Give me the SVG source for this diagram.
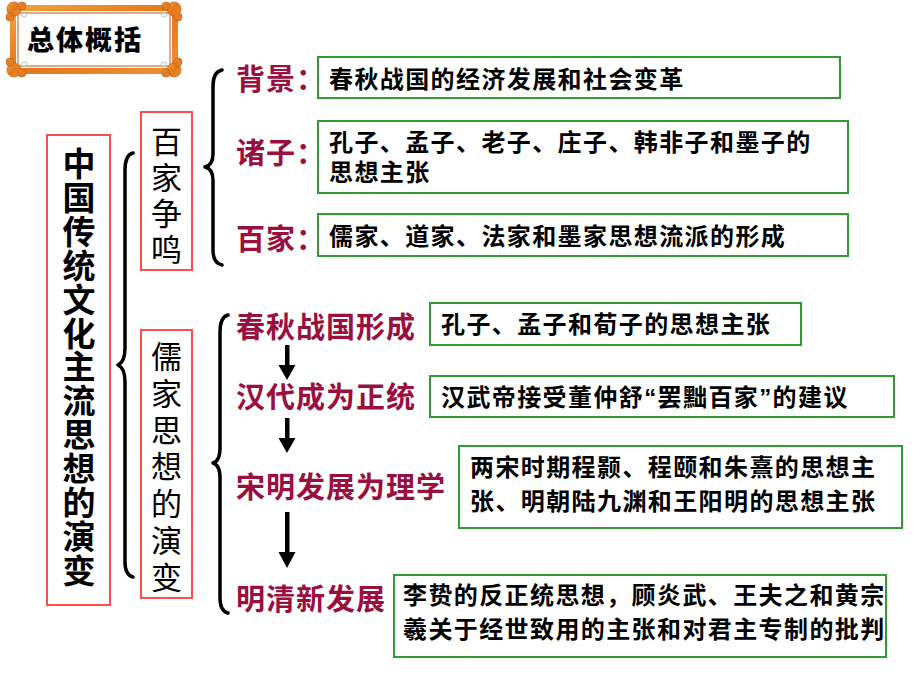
<svg xmlns="http://www.w3.org/2000/svg" width="920" height="690" viewBox="0 0 920 690">
<defs>
<style>
.cjk{font-family:"Liberation Sans","Noto Sans CJK SC",sans-serif;}
.lbl{font-family:"Liberation Sans","Noto Sans CJK SC",sans-serif;font-size:29px;font-weight:bold;fill:#99103F;letter-spacing:1px;}
.txt{font-family:"Liberation Sans","Noto Sans CJK SC",sans-serif;font-size:24px;font-weight:bold;fill:#000;letter-spacing:1.4px;}
.gbox{fill:#fff;stroke:#339933;stroke-width:2;}
.rbox{fill:#fff;stroke:#FF4D4D;stroke-width:2;}
.brace{fill:none;stroke:#000;stroke-width:3.5;stroke-linecap:round;stroke-linejoin:round;}
.arr{fill:#000;}
</style>
<linearGradient id="og" x1="0" y1="0" x2="1" y2="1">
<stop offset="0" stop-color="#F5A040"/>
<stop offset="0.5" stop-color="#E5761A"/>
<stop offset="1" stop-color="#F09035"/>
</linearGradient>
</defs>
<rect width="920" height="690" fill="#fff"/>

<g id="title">
<rect x="13" y="8" width="162" height="63" fill="#fff" stroke="url(#og)" stroke-width="6"/>
<rect x="18" y="13" width="152" height="53" fill="none" stroke="#B85A10" stroke-width="1"/>
<g fill="url(#og)" stroke="#C0651A" stroke-width="0.8">
<circle cx="14" cy="9" r="7"/><circle cx="22" cy="6" r="4"/><circle cx="10" cy="17" r="4"/>
<circle cx="174" cy="9" r="7"/><circle cx="166" cy="6" r="4"/><circle cx="178" cy="17" r="4"/>
<circle cx="14" cy="70" r="7"/><circle cx="22" cy="73" r="4"/><circle cx="10" cy="62" r="4"/>
<circle cx="174" cy="70" r="7"/><circle cx="166" cy="73" r="4"/><circle cx="178" cy="62" r="4"/>
</g>
<g fill="#F4F4F4" stroke="#999" stroke-width="0.5">
<ellipse cx="24" cy="15" rx="3" ry="2"/><ellipse cx="164" cy="15" rx="3" ry="2"/>
<ellipse cx="24" cy="64" rx="3" ry="2"/><ellipse cx="164" cy="64" rx="3" ry="2"/>
</g>
<text x="27" y="50" class="cjk" font-size="27" font-weight="900" fill="#000" letter-spacing="2">总体概括</text>
</g>

<g id="main">
<rect x="47" y="135" width="63" height="470" class="rbox"/>
<text class="cjk" font-size="33" font-weight="bold" fill="#000" text-anchor="middle">
<tspan x="79" y="176">中</tspan><tspan x="79" dy="33.9">国</tspan><tspan x="79" dy="33.9">传</tspan><tspan x="79" dy="33.9">统</tspan><tspan x="79" dy="33.9">文</tspan><tspan x="79" dy="33.9">化</tspan><tspan x="79" dy="33.9">主</tspan><tspan x="79" dy="33.9">流</tspan><tspan x="79" dy="33.9">思</tspan><tspan x="79" dy="33.9">想</tspan><tspan x="79" dy="33.9">的</tspan><tspan x="79" dy="33.9">演</tspan><tspan x="79" dy="33.9">变</tspan>
</text>
</g>

<g id="baijia">
<rect x="141" y="112" width="51" height="158" class="rbox"/>
<text class="cjk" font-size="31" fill="#000" text-anchor="middle">
<tspan x="166.5" y="153">百</tspan><tspan x="166.5" dy="36">家</tspan><tspan x="166.5" dy="36">争</tspan><tspan x="166.5" dy="36">鸣</tspan>
</text>
</g>

<g id="rujia">
<rect x="141" y="330" width="51" height="268" class="rbox"/>
<text class="cjk" font-size="31" fill="#000" text-anchor="middle">
<tspan x="166.5" y="368">儒</tspan><tspan x="166.5" dy="36.8">家</tspan><tspan x="166.5" dy="36.8">思</tspan><tspan x="166.5" dy="36.8">想</tspan><tspan x="166.5" dy="36.8">的</tspan><tspan x="166.5" dy="36.8">演</tspan><tspan x="166.5" dy="36.8">变</tspan>
</text>
</g>

<g id="connectors">
<path class="brace" d="M133,153 Q125,155 125,170 L125,348 Q125,362 118,365 Q125,368 125,382 L125,562 Q125,575 133,577"/>
<path class="brace" d="M222,70 Q213,72 213,86 L213,154 Q213,165 205,167 Q213,169 213,180 L213,250 Q213,263 222,265"/>
<path class="brace" d="M228,315 Q220,317 220,332 L220,448 Q220,461 213,463 Q220,465 220,478 L220,598 Q220,611 228,613"/>
<rect class="arr" x="285" y="345" width="4.5" height="22"/>
<polygon class="arr" points="278.5,365 295.5,365 287,380"/>
<rect class="arr" x="285" y="418" width="4.5" height="22"/>
<polygon class="arr" points="278.5,438 295.5,438 287,453"/>
<rect class="arr" x="285" y="512" width="4.5" height="42"/>
<polygon class="arr" points="278.5,552 295.5,552 287,568"/>
</g>

<g id="beijing">
<text x="236" y="90" class="lbl">背景：</text>
<rect x="318" y="57" width="522" height="41" class="gbox"/>
<text x="329" y="88" class="txt">春秋战国的经济发展和社会变革</text>
</g>

<g id="zhuzi">
<text x="236" y="164" class="lbl">诸子：</text>
<rect x="318" y="121" width="530" height="72" class="gbox"/>
<text x="329" y="151" class="txt">孔子、孟子、老子、庄子、韩非子和墨子的</text>
<text x="329" y="181" class="txt">思想主张</text>
</g>

<g id="baijia2">
<text x="236" y="250" class="lbl">百家：</text>
<rect x="318" y="214" width="530" height="42" class="gbox"/>
<text x="329" y="245" class="txt">儒家、道家、法家和墨家思想流派的形成</text>
</g>

<g id="chunqiu">
<text x="236" y="338" class="lbl">春秋战国形成</text>
<rect x="430" y="303" width="371" height="42" class="gbox"/>
<text x="441" y="333" class="txt">孔子、孟子和荀子的思想主张</text>
</g>

<g id="handai">
<text x="236" y="408" class="lbl">汉代成为正统</text>
<rect x="430" y="376" width="464" height="41" class="gbox"/>
<text x="441" y="406" class="txt">汉武帝接受董仲舒“罢黜百家”的建议</text>
</g>

<g id="songming">
<text x="236" y="498" class="lbl">宋明发展为理学</text>
<rect x="459" y="446" width="443" height="82" class="gbox"/>
<text x="470" y="476" class="txt">两宋时期程颢、程颐和朱熹的思想主</text>
<text x="470" y="510" class="txt">张、明朝陆九渊和王阳明的思想主张</text>
</g>

<g id="mingqing">
<text x="236" y="610" class="lbl">明清新发展</text>
<rect x="394" y="575" width="492" height="82" class="gbox"/>
<text x="403" y="604" class="txt">李贽的反正统思想，顾炎武、王夫之和黄宗</text>
<text x="403" y="638" class="txt">羲关于经世致用的主张和对君主专制的批判</text>
</g>
</svg>
